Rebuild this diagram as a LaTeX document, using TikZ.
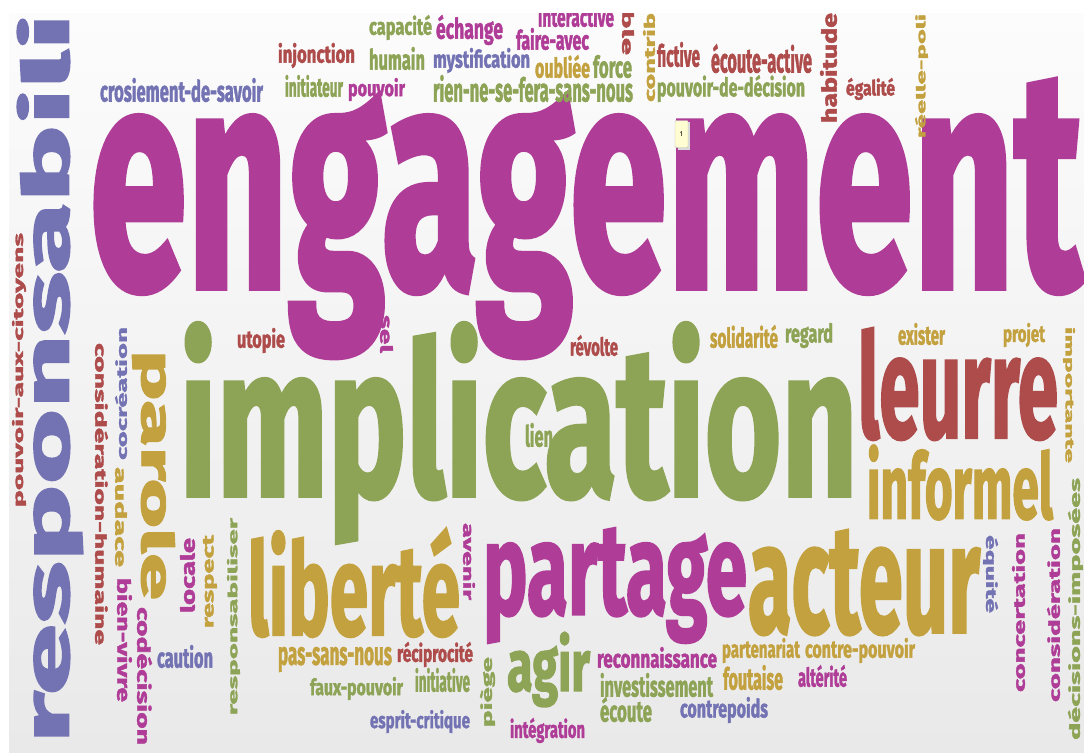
\documentclass[tikz,border=0pt]{standalone}
\usepackage{fontspec}
\setmainfont{Fira Sans}[BoldFeatures={FakeBold=2}]
\usepackage{graphicx}
\definecolor{cM}{RGB}{175,61,151}
\definecolor{cG}{RGB}{141,163,85}
\definecolor{cR}{RGB}{174,75,75}
\definecolor{cY}{RGB}{194,161,62}
\definecolor{cB}{RGB}{115,115,180}
\definecolor{bgTop}{RGB}{252,252,252}
\definecolor{bgBot}{RGB}{233,233,233}
\tikzset{wd/.style={inner sep=0pt, outer sep=0pt, font=\bfseries},
  tipbox/.style={draw=black!25, fill=yellow!18, inner sep=0pt, minimum width=13pt, minimum height=27pt, rounded corners=1pt, font=\fontsize{7}{7}\selectfont}}
% name, colour, rotation, x0, y0, x1, y1, text  (pixel ink box)
\newcommand\W[8]{%
  \pgfmathsetmacro\Wcx{(#4+#6)/2}%
  \pgfmathsetmacro\Wcy{(#5+#7)/2}%
  \ifnum#3=0
    \pgfmathsetmacro\Wwd{#6-#4}\pgfmathsetmacro\Wht{#7-#5}%
  \else
    \pgfmathsetmacro\Wwd{#7-#5}\pgfmathsetmacro\Wht{#6-#4}%
  \fi
  \node[wd, text=#2, rotate=#3] (#1) at (\Wcx,\Wcy) {\resizebox*{\Wwd pt}{\Wht pt}{#8}};%
}
\begin{document}
\begin{tikzpicture}[x=1pt,y=-1pt]
\useasboundingbox (0,0) rectangle (1084,753);
\fill[white] (0,0) rectangle (1084,753);
\shade[top color=bgTop, bottom color=bgBot] (9,13) rectangle (1084,752);
\begin{scope}
\clip (9,13) rectangle (1084,752);
% big words
\W{engagement}{cM}{0}{90}{80}{1082}{357}{engagement}
\W{implication}{cG}{0}{180}{323}{857}{543}{implication}
\W{responsabili}{cB}{90}{17}{14}{83}{743}{responsabili}
\W{leurre}{cR}{0}{858}{328}{1058}{440}{leurre}
\W{informel}{cY}{0}{867}{445}{1053}{520}{informel}
\W{acteur}{cY}{0}{748}{530}{980}{635}{acteur}
\W{partage}{cM}{0}{483}{528}{747}{643}{partage}
\W{liberte}{cY}{0}{248}{528}{460}{637}{liberté}
\W{parole}{cY}{-90}{132}{350}{175}{600}{parole}
\W{agir}{cG}{0}{507}{632}{590}{707}{agir}
% small horizontal words
\W{injonction}{cR}{0}{278}{43}{355}{68}{injonction}
\W{crosiement}{cB}{0}{100}{78}{263}{102}{crosiement-de-savoir}
\W{initiateur}{cG}{0}{285}{75}{343}{97}{initiateur}
\W{pouvoir}{cM}{0}{348}{78}{405}{101}{pouvoir}
\W{capacite}{cG}{0}{369}{15}{432}{40}{capacité}
\W{echange}{cM}{0}{436}{15}{503}{45}{échange}
\W{interactive}{cM}{0}{538}{5}{614}{27}{interactive}
\W{faireavec}{cM}{0}{516}{28}{589}{50}{faire-avec}
\W{humain}{cG}{0}{369}{47}{425}{70}{humain}
\W{mystification}{cB}{0}{433}{48}{530}{73}{mystification}
\W{oubliee}{cY}{0}{535}{55}{590}{78}{oubliée}
\W{force}{cG}{0}{593}{55}{632}{78}{force}
\W{rien}{cG}{0}{433}{75}{633}{102}{rien-ne-se-fera-sans-nous}
\W{fictive}{cR}{0}{657}{42}{700}{67}{fictive}
\W{ecouteactive}{cR}{0}{711}{44}{812}{73}{écoute-active}
\W{pouvoirdecision}{cG}{0}{657}{75}{805}{102}{pouvoir-de-décision}
\W{egalite}{cR}{0}{846}{78}{895}{100}{égalité}
\W{utopie}{cR}{0}{237}{328}{285}{353}{utopie}
\W{revolte}{cR}{0}{570}{335}{618}{356}{révolte}
\W{lien}{cG}{0}{525}{423}{553}{447}{lien}
\W{solidarite}{cY}{0}{710}{325}{778}{348}{solidarité}
\W{regard}{cG}{0}{785}{323}{833}{348}{regard}
\W{exister}{cY}{0}{898}{323}{945}{345}{exister}
\W{projet}{cY}{0}{1003}{323}{1045}{347}{projet}
\W{partenariat}{cY}{0}{722}{638}{800}{663}{partenariat}
\W{contrepouvoir}{cY}{0}{805}{638}{915}{663}{contre-pouvoir}
\W{foutaise}{cY}{0}{723}{665}{783}{690}{foutaise}
\W{alterite}{cM}{0}{798}{665}{847}{687}{altérité}
\W{contrepoids}{cB}{0}{680}{697}{768}{723}{contrepoids}
\W{reciprocite}{cR}{0}{397}{642}{473}{667}{réciprocité}
\W{passansnous}{cY}{0}{278}{647}{392}{672}{pas-sans-nous}
\W{initiative}{cG}{0}{415}{668}{470}{692}{initiative}
\W{fauxpouvoir}{cG}{0}{310}{677}{403}{700}{faux-pouvoir}
\W{espritcritique}{cB}{0}{370}{710}{470}{733}{esprit-critique}
\W{integration}{cM}{0}{510}{718}{585}{743}{intégration}
\W{reconnaissance}{cM}{0}{597}{647}{717}{668}{reconnaissance}
\W{investissement}{cG}{0}{600}{673}{713}{697}{investissement}
\W{ecoute}{cG}{0}{600}{697}{652}{722}{écoute}
\W{caution}{cB}{0}{157}{645}{213}{668}{caution}
% vertical words
\W{habitude}{cR}{90}{820}{13}{837}{123}{habitude}
\W{reellepoli}{cY}{90}{915}{14}{928}{138}{réelle-poli}
\W{ble}{cR}{-90}{622}{10}{634}{55}{ble}
\W{contrib}{cY}{90}{643}{13}{655}{102}{contrib}
\W{pouvoirauxcitoyens}{cR}{90}{12}{233}{26}{507}{pouvoir-aux-citoyens}
\W{considerationhumaine}{cR}{-90}{95}{343}{108}{645}{considération-humaine}
\W{cocreation}{cB}{90}{115}{327}{127}{460}{cocréation}
\W{audace}{cY}{-90}{115}{467}{127}{567}{audace}
\W{sel}{cM}{-90}{380}{315}{393}{353}{sel}
\W{importante}{cY}{-90}{1063}{327}{1075}{463}{importante}
\W{decisionsimposees}{cG}{90}{1068}{478}{1083}{740}{décisions-imposées}
\W{equite}{cB}{-90}{983}{535}{998}{613}{équité}
\W{concertation}{cM}{90}{1012}{533}{1025}{692}{concertation}
\W{consideration}{cM}{90}{1047}{528}{1060}{702}{considération}
\W{avenir}{cM}{-90}{463}{523}{475}{600}{avenir}
\W{piege}{cG}{90}{480}{657}{495}{727}{piège}
\W{bienvivre}{cM}{-90}{117}{578}{132}{702}{bien-vivre}
\W{codecision}{cM}{-90}{137}{607}{152}{745}{codécision}
\W{locale}{cM}{90}{180}{538}{195}{613}{locale}
\W{respect}{cY}{90}{203}{535}{217}{628}{respect}
\W{responsabiliser}{cG}{90}{227}{518}{240}{715}{responsabiliser}
\end{scope}
% tooltip
\fill[black!15] (677.5,122) rectangle (690,150);
\node[tipbox] (tip) at (681.5,134) {1};
\end{tikzpicture}
\end{document}
